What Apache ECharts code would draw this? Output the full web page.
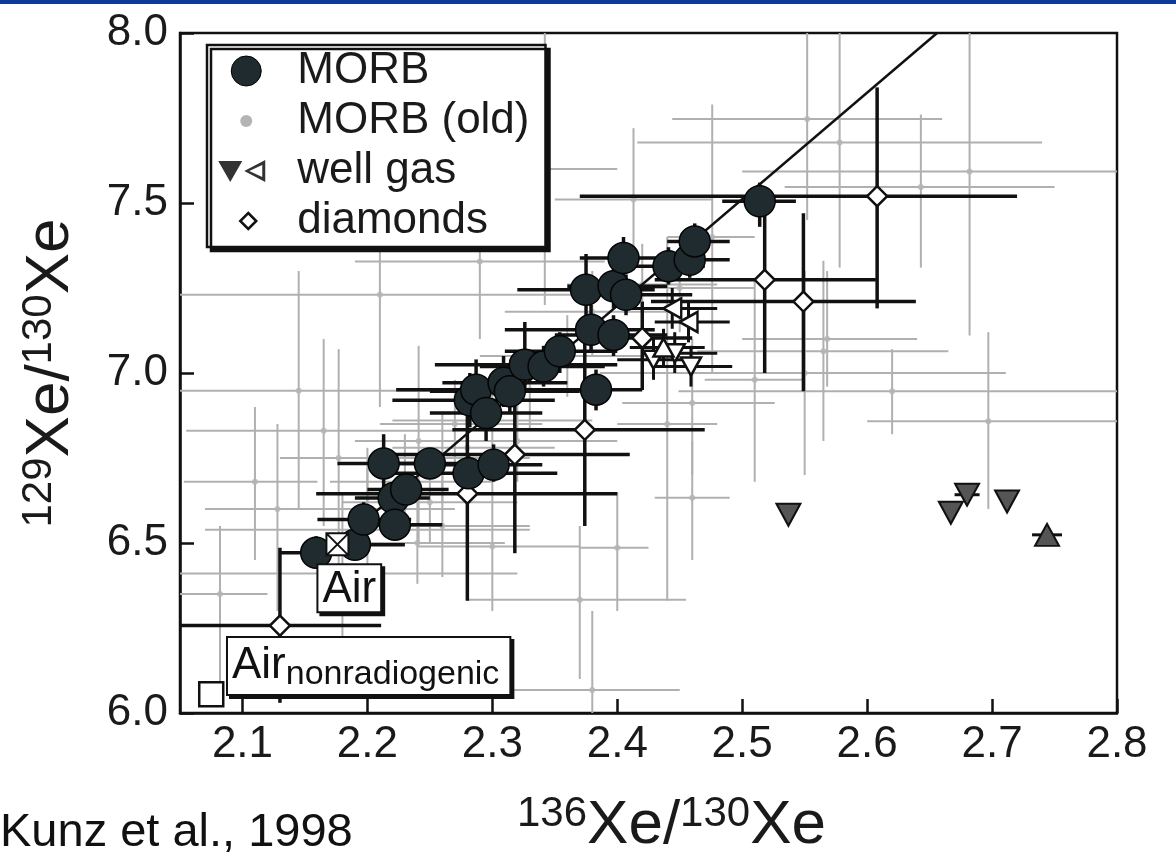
<!DOCTYPE html>
<html>
<head>
<meta charset="utf-8">
<script src="https://cdn.jsdelivr.net/npm/echarts@6/dist/echarts.min.js"></script>
<style>
  html, body { margin: 0; padding: 0; background: #fff; }
  #chart { width: 1176px; height: 863px; }
</style>
</head>
<body>
<div id="chart"></div>
<script>
// tick labels
var xTicks = [2.1, 2.2, 2.3, 2.4, 2.5, 2.6, 2.7, 2.8];
var yTicks = [6.0, 6.5, 7.0, 7.5, 8.0];

// [136/130, 129/130, xlo, xhi, ylo, yhi]
var morb = [
  [2.159, 6.471, 2.13, 2.19, 6.43, 6.52],
  [2.190, 6.495, 2.15, 2.23, 6.45, 6.54],
  [2.197, 6.569, 2.16, 2.235, 6.52, 6.62],
  [2.221, 6.632, 2.19, 2.25, 6.59, 6.68],
  [2.222, 6.554, 2.19, 2.26, 6.51, 6.60],
  [2.231, 6.657, 2.20, 2.265, 6.61, 6.70],
  [2.213, 6.734, 2.176, 2.25, 6.64, 6.82],
  [2.250, 6.734, 2.21, 2.29, 6.69, 6.78],
  [2.281, 6.705, 2.21, 2.352, 6.65, 6.76],
  [2.301, 6.730, 2.26, 2.34, 6.68, 6.79],
  [2.282, 6.920, 2.22, 2.35, 6.84, 7.00],
  [2.287, 6.951, 2.223, 2.367, 6.86, 7.04],
  [2.295, 6.882, 2.25, 2.34, 6.80, 6.95],
  [2.309, 6.971, 2.26, 2.36, 6.90, 7.05],
  [2.314, 6.946, 2.25, 2.37, 6.88, 7.02],
  [2.326, 7.024, 2.254, 2.40, 6.95, 7.15],
  [2.341, 7.019, 2.29, 2.39, 6.96, 7.08],
  [2.354, 7.064, 2.31, 2.40, 7.00, 7.12],
  [2.379, 7.127, 2.31, 2.43, 7.06, 7.20],
  [2.397, 7.112, 2.35, 2.44, 7.05, 7.17],
  [2.383, 6.951, 2.35, 2.42, 6.89, 7.01],
  [2.375, 7.245, 2.32, 2.43, 7.14, 7.35],
  [2.397, 7.255, 2.36, 2.44, 7.19, 7.32],
  [2.407, 7.230, 2.37, 2.46, 7.17, 7.29],
  [2.405, 7.338, 2.37, 2.44, 7.28, 7.40],
  [2.441, 7.314, 2.41, 2.47, 7.26, 7.37],
  [2.458, 7.333, 2.43, 2.49, 7.28, 7.39],
  [2.462, 7.387, 2.44, 2.49, 7.34, 7.44],
  [2.514, 7.505, 2.484, 2.543, 7.43, 7.56]
];

var morbOld = [
  [2.552, 7.747, 2.444, 2.66, 7.45, 8.05],
  [2.578, 7.678, 2.416, 2.74, 7.31, 8.05],
  [2.682, 7.593, 2.50, 2.85, 7.11, 8.05],
  [2.643, 7.547, 2.534, 2.75, 7.31, 7.76],
  [2.413, 7.510, 2.35, 2.476, 7.30, 7.72],
  [2.476, 7.400, 2.44, 2.51, 7.00, 7.79],
  [2.290, 7.328, 2.19, 2.39, 7.10, 7.56],
  [2.210, 7.230, 2.04, 2.38, 6.90, 7.56],
  [2.145, 6.948, 2.04, 2.25, 6.60, 7.30],
  [2.550, 7.000, 2.386, 2.711, 6.70, 7.30],
  [2.697, 6.858, 2.60, 2.85, 6.60, 7.12],
  [2.565, 7.064, 2.464, 2.665, 6.80, 7.33],
  [2.568, 7.100, 2.50, 2.64, 6.96, 7.30],
  [2.620, 6.946, 2.449, 2.85, 6.82, 7.07],
  [2.165, 6.830, 2.055, 2.27, 6.55, 7.10],
  [2.110, 6.680, 2.053, 2.16, 6.45, 6.90],
  [2.128, 6.600, 2.07, 2.19, 6.30, 6.85],
  [2.200, 6.539, 2.07, 2.33, 6.30, 6.78],
  [2.300, 6.490, 2.24, 2.37, 6.30, 6.70],
  [2.180, 6.410, 2.04, 2.32, 6.15, 6.65],
  [2.370, 6.333, 2.28, 2.455, 6.10, 6.55],
  [2.380, 6.068, 2.31, 2.45, 5.95, 6.30],
  [2.460, 6.912, 2.404, 2.526, 6.70, 7.10],
  [2.460, 6.633, 2.43, 2.49, 6.45, 6.80],
  [2.400, 6.486, 2.37, 2.425, 6.30, 6.65],
  [2.440, 6.850, 2.40, 2.48, 6.33, 7.40],
  [2.510, 6.980, 2.47, 2.55, 6.68, 7.28],
  [2.342, 7.600, 2.30, 2.40, 7.20, 8.05],
  [2.177, 6.750, 2.13, 2.22, 6.42, 7.07],
  [2.241, 6.800, 2.19, 2.29, 6.50, 7.08],
  [2.082, 6.350, 2.05, 2.12, 6.05, 6.55],
  [2.230, 6.680, 2.17, 2.30, 6.55, 6.82],
  [2.260, 6.750, 2.19, 2.33, 6.62, 6.88],
  [2.270, 6.850, 2.21, 2.34, 6.72, 6.98],
  [2.300, 6.860, 2.22, 2.38, 6.73, 6.99],
  [2.330, 6.950, 2.26, 2.40, 6.83, 7.07],
  [2.360, 7.050, 2.29, 2.43, 6.93, 7.17],
  [2.380, 7.180, 2.31, 2.45, 7.05, 7.30],
  [2.420, 7.260, 2.36, 2.48, 7.14, 7.38],
  [2.450, 7.250, 2.39, 2.51, 7.12, 7.37],
  [2.200, 6.600, 2.13, 2.27, 6.48, 6.72],
  [2.250, 6.620, 2.18, 2.32, 6.50, 6.74],
  [2.280, 6.780, 2.22, 2.35, 6.65, 6.90],
  [2.320, 6.800, 2.25, 2.40, 6.68, 6.92],
  [2.240, 6.500, 2.17, 2.31, 6.38, 6.62],
  [2.260, 6.550, 2.20, 2.33, 6.40, 6.70]
];

var diamonds = [
  [2.130, 6.257, 2.04, 2.211, 6.03, 6.486],
  [2.280, 6.645, 2.159, 2.40, 6.33, 6.96],
  [2.318, 6.760, 2.22, 2.41, 6.47, 7.05],
  [2.374, 6.833, 2.268, 2.47, 6.55, 7.12],
  [2.420, 7.103, 2.38, 2.46, 6.95, 7.21],
  [2.608, 7.520, 2.37, 2.72, 7.19, 7.84],
  [2.518, 7.274, 2.43, 2.607, 7.00, 7.54],
  [2.549, 7.210, 2.427, 2.639, 6.946, 7.47]
];

// well gas
var wellGasDown = [[2.537, 6.583], [2.667, 6.589], [2.680, 6.642], [2.712, 6.622]];
var wellGasUp = [[2.744, 6.524]];
var wellGasBars = [
  [2.680, 6.642, 2.670, 2.690, 6.642, 6.642],
  [2.744, 6.524, 2.732, 2.756, 6.524, 6.524]
];
var wellGasOpenDown = [
  [2.429, 7.039, 2.40, 2.46, 6.98, 7.10],
  [2.446, 7.058, 2.42, 2.48, 7.00, 7.12],
  [2.459, 7.019, 2.43, 2.492, 6.96, 7.08]
];
var wellGasOpenUp = [[2.437, 7.075, 2.41, 2.47, 7.02, 7.13]];
var wellGasOpenLeft = [
  [2.444, 7.190, 2.41, 2.48, 7.13, 7.25],
  [2.457, 7.150, 2.43, 2.49, 7.09, 7.21]
];

var air = [[2.176, 6.496]];
var airNonrad = [[2.075, 6.055]];
var trendLine = [[2.176, 6.496], [2.656, 8.0]];

var FONT = 'Liberation Sans, Arial, Helvetica, sans-serif';

function barRender(color, width) {
  return function (params, api) {
    var x = api.value(0), y = api.value(1);
    var a = api.coord([api.value(2), y]);
    var b = api.coord([api.value(3), y]);
    var c = api.coord([x, api.value(4)]);
    var d = api.coord([x, api.value(5)]);
    var st = { stroke: color, lineWidth: width };
    return {
      type: 'group',
      children: [
        { type: 'line', shape: { x1: a[0], y1: a[1], x2: b[0], y2: b[1] }, style: st },
        { type: 'line', shape: { x1: c[0], y1: c[1], x2: d[0], y2: d[1] }, style: st }
      ]
    };
  };
}

function bars(name, data, color, width, z) {
  return {
    name: name,
    type: 'custom',
    renderItem: barRender(color, width),
    data: data,
    encode: { x: 0, y: 1 },
    clip: true,
    silent: true,
    z: z
  };
}

var nameRich = {
  m: { fontSize: 62, lineHeight: 66, fontFamily: FONT, color: '#1a1a1a', verticalAlign: 'middle' },
  sup: { fontSize: 42, lineHeight: 44, fontFamily: FONT, color: '#1a1a1a', verticalAlign: 'top' }
};

var chart = echarts.init(document.getElementById('chart'));

var option = {
  backgroundColor: '#fff',
  animation: false,
  textStyle: { fontFamily: FONT },
  grid: {
    left: 180, right: 59, top: 33, bottom: 150,
    containLabel: false, outerBoundsMode: 'none',
    show: true, borderColor: '#111', borderWidth: 2.5, backgroundColor: 'transparent'
  },
  xAxis: {
    type: 'value',
    min: 2.05,
    max: 2.8,
    name: '{sup|136}{m|Xe/}{sup|130}{m|Xe}',
    nameLocation: 'middle',
    nameGap: 80,
    nameTextStyle: { padding: [0, 0, 0, 46], rich: nameRich },
    axisLine: { lineStyle: { color: '#111', width: 2.5 } },
    axisTick: { inside: true, length: 14, lineStyle: { color: '#111', width: 2.5 }, customValues: xTicks },
    axisLabel: { customValues: xTicks, fontSize: 44, color: '#1a1a1a', margin: 10, fontFamily: FONT,
      formatter: function (v) { return v.toFixed(1); } },
    splitLine: { show: false }
  },
  yAxis: {
    type: 'value',
    min: 6,
    max: 8,
    interval: 0.5,
    name: '{sup|129}{m|Xe/}{sup|130}{m|Xe}',
    nameLocation: 'middle',
    nameGap: 96,
    nameTextStyle: { rich: nameRich },
    axisLine: { lineStyle: { color: '#111', width: 2.5 } },
    axisTick: { inside: true, length: 14, lineStyle: { color: '#111', width: 2.5 } },
    axisLabel: { fontSize: 44, color: '#1a1a1a', margin: 12, fontFamily: FONT,
      formatter: function (v) { return v.toFixed(1); } },
    splitLine: { show: false }
  },
  legend: {
    orient: 'vertical',
    left: 207,
    top: 45,
    itemWidth: 74,
    itemHeight: 32,
    itemGap: 6,
    padding: [4, 16, 4, 10],
    backgroundColor: '#fff',
    borderColor: '#111',
    borderWidth: 2.5,
    shadowColor: '#111',
    shadowBlur: 0,
    shadowOffsetX: 4,
    shadowOffsetY: 4,
    selectedMode: false,
    textStyle: { fontSize: 44, lineHeight: 44, color: '#1a1a1a', fontFamily: FONT },
    data: [
      { name: 'MORB', icon: 'path://M0,0 M74,32 M13,16 A15,15 0 1 1 43,16 A15,15 0 1 1 13,16 Z',
        itemStyle: { color: '#1f2b2e', borderColor: '#000', borderWidth: 1 } },
      { name: 'MORB (old)', icon: 'path://M0,0 M74,32 M22,16 A6,6 0 1 1 34,16 A6,6 0 1 1 22,16 Z',
        itemStyle: { color: '#b4b4b4', borderWidth: 0 } },
      { name: 'well gas', icon: 'path://M0,0 M74,32 M0,6 L24,6 L12,27 Z M47,5 L47,27 L26,16 Z M44,10 L31,16 L44,22 Z',
        itemStyle: { color: '#333', borderWidth: 0 } },
      { name: 'diamonds', icon: 'path://M0,0 M74,32 M30,8 L38,16 L30,24 L22,16 Z',
        itemStyle: { color: '#fff', borderColor: '#111', borderWidth: 2.5 } }
    ]
  },
  graphic: [
    { type: 'rect', left: 0, top: 0, shape: { width: 1176, height: 4 }, style: { fill: '#0c3a98' }, silent: true },
    { type: 'text', left: 0, top: 810, style: { text: 'Kunz et al., 1998', font: '47px ' + FONT, fill: '#111' }, silent: true }
  ],
  series: [
    bars('MORB (old)', morbOld, '#b0b0b0', 2, 1),
    {
      name: 'MORB (old)', type: 'scatter', data: morbOld, encode: { x: 0, y: 1 },
      symbol: 'circle', symbolSize: 6, itemStyle: { color: '#b4b4b4' }, z: 2, silent: true
    },
    {
      name: 'trend', type: 'line', data: trendLine, symbol: 'none', z: 3, silent: true,
      lineStyle: { color: '#111', width: 2.5 }
    },
    bars('diamonds', diamonds, '#111', 3.5, 4),
    bars('MORB', morb, '#111', 3.5, 4),
    bars('well gas', wellGasOpenDown.concat(wellGasOpenUp, wellGasOpenLeft, wellGasBars), '#111', 3, 4),
    {
      name: 'diamonds', type: 'scatter', data: diamonds, encode: { x: 0, y: 1 },
      symbol: 'diamond', symbolSize: 20, z: 5, silent: true,
      itemStyle: { color: '#fff', borderColor: '#111', borderWidth: 2.5, opacity: 1 }
    },
    {
      name: 'well gas', type: 'scatter', data: wellGasOpenDown, encode: { x: 0, y: 1 },
      symbol: 'triangle', symbolRotate: 180, symbolSize: [20, 18], z: 5, silent: true,
      itemStyle: { color: '#fff', borderColor: '#111', borderWidth: 2.5, opacity: 1 }
    },
    {
      name: 'well gas', type: 'scatter', data: wellGasOpenUp, encode: { x: 0, y: 1 },
      symbol: 'triangle', symbolSize: [20, 18], z: 5, silent: true,
      itemStyle: { color: '#fff', borderColor: '#111', borderWidth: 2.5, opacity: 1 }
    },
    {
      name: 'well gas', type: 'scatter', data: wellGasOpenLeft, encode: { x: 0, y: 1 },
      symbol: 'triangle', symbolRotate: 90, symbolSize: [20, 18], z: 5, silent: true,
      itemStyle: { color: '#fff', borderColor: '#111', borderWidth: 2.5, opacity: 1 }
    },
    {
      name: 'well gas', type: 'scatter', data: wellGasDown,
      symbol: 'triangle', symbolRotate: 180, symbolSize: [24, 22], z: 5, silent: true,
      itemStyle: { color: '#555', borderColor: '#111', borderWidth: 2, opacity: 1 }
    },
    {
      name: 'well gas', type: 'scatter', data: wellGasUp,
      symbol: 'triangle', symbolSize: [24, 22], z: 5, silent: true,
      itemStyle: { color: '#555', borderColor: '#111', borderWidth: 2, opacity: 1 }
    },
    {
      name: 'MORB', type: 'scatter', data: morb, encode: { x: 0, y: 1 },
      symbol: 'circle', symbolSize: 31, z: 6, silent: true,
      itemStyle: { color: '#1f2b2e', borderColor: '#050505', borderWidth: 1.5, opacity: 1 }
    },
    {
      name: 'Air', type: 'scatter', data: air, z: 8, silent: true,
      symbol: 'path://M0,0 L20,0 L20,20 L0,20 Z M0,0 L20,20 M20,0 L0,20', symbolSize: 22,
      itemStyle: { color: '#fff', borderColor: '#111', borderWidth: 2, opacity: 1 },
      label: {
        show: true, formatter: 'Air', position: [-7, 33], align: 'left', verticalAlign: 'top',
        fontSize: 44, lineHeight: 44, color: '#111', fontFamily: FONT,
        backgroundColor: '#fff', borderColor: '#111', borderWidth: 2, padding: [2, 4, 0, 4],
        shadowColor: '#111', shadowBlur: 0, shadowOffsetX: 3, shadowOffsetY: 3
      }
    },
    {
      name: 'Air nonradiogenic', type: 'scatter', data: airNonrad, z: 8, silent: true,
      symbol: 'rect', symbolSize: 24,
      itemStyle: { color: '#fff', borderColor: '#111', borderWidth: 2.5, opacity: 1 },
      label: {
        show: true, formatter: '{a|Air}{b|nonradiogenic}', position: [30, -43], align: 'left', verticalAlign: 'top',
        backgroundColor: '#fff', borderColor: '#111', borderWidth: 2, padding: [2, 10, 2, 4],
        shadowColor: '#111', shadowBlur: 0, shadowOffsetX: 3, shadowOffsetY: 3,
        rich: {
          a: { fontSize: 44, lineHeight: 52, color: '#111', fontFamily: FONT, verticalAlign: 'middle' },
          b: { fontSize: 34, lineHeight: 32, color: '#111', fontFamily: FONT, verticalAlign: 'bottom' }
        }
      }
    }
  ]
};

chart.setOption(option);
</script>
</body>
</html>
